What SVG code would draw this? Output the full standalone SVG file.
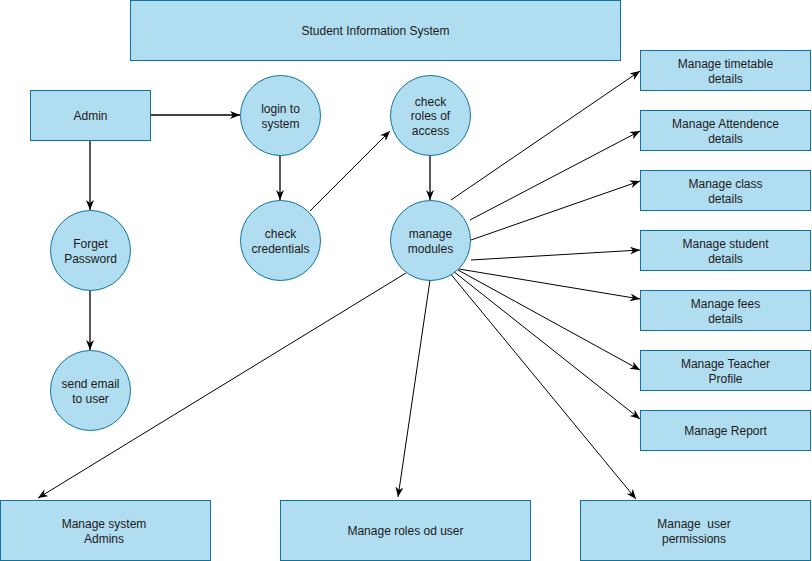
<svg xmlns="http://www.w3.org/2000/svg" width="812" height="561" viewBox="0 0 812 561">
<style>
.n{fill:#b1ddf0;stroke:#10739e;stroke-width:1}
.t{font-family:"Liberation Sans",Arial,sans-serif;font-size:12px;fill:#1a1a1a;text-anchor:middle;white-space:pre}
.e{stroke:#000;stroke-width:1;fill:none;marker-end:url(#a)}
.e2{stroke-width:1.3}
</style>
<defs>
<marker id="a" markerUnits="userSpaceOnUse" markerWidth="12" markerHeight="10" refX="10" refY="4" orient="auto">
<path d="M0,0 L10,4 L0,8 L3,4 Z" fill="#000"/>
</marker>
</defs>
<rect width="812" height="561" fill="#fff"/>
<g id="connectors">
<line class="e e2" x1="150" y1="115" x2="240" y2="115"/>
<line class="e e2" x1="90" y1="140" x2="90" y2="210"/>
<line class="e e2" x1="280" y1="155" x2="280" y2="200"/>
<line class="e" x1="310" y1="211" x2="390" y2="131"/>
<line class="e e2" x1="430" y1="155" x2="430" y2="200"/>
<line class="e e2" x1="90" y1="290" x2="90" y2="350"/>
<line class="e" x1="451" y1="200" x2="640" y2="71"/>
<line class="e" x1="470" y1="220" x2="640" y2="131"/>
<line class="e" x1="471" y1="240" x2="640" y2="181"/>
<line class="e" x1="471" y1="260" x2="640" y2="250"/>
<line class="e" x1="459" y1="269" x2="640" y2="299"/>
<line class="e" x1="458" y1="270" x2="640" y2="370"/>
<line class="e" x1="453" y1="271" x2="640" y2="419"/>
<line class="e" x1="449" y1="272" x2="636" y2="499"/>
<line class="e" x1="406" y1="273" x2="38" y2="498"/>
<line class="e" x1="430" y1="280" x2="398" y2="497"/>
</g>
<g id="title"><rect class="n" x="130.5" y="0.5" width="490" height="60"/><text class="t" x="375.5" y="35">Student Information System</text></g>
<g id="admin"><rect class="n" x="30.5" y="90.5" width="120" height="50"/><text class="t" x="90.5" y="120">Admin</text></g>
<g id="login"><circle class="n" cx="280.5" cy="115.5" r="40"/><text class="t" x="280.5" y="113">login to</text><text class="t" x="280.5" y="128">system</text></g>
<g id="credentials"><circle class="n" cx="280.5" cy="240.5" r="40"/><text class="t" x="280.5" y="238">check</text><text class="t" x="280.5" y="253">credentials</text></g>
<g id="forget"><circle class="n" cx="90.5" cy="250.5" r="40"/><text class="t" x="90.5" y="248">Forget</text><text class="t" x="90.5" y="263">Password</text></g>
<g id="sendemail"><circle class="n" cx="90.5" cy="390.5" r="40"/><text class="t" x="90.5" y="388">send email</text><text class="t" x="90.5" y="403">to user</text></g>
<g id="roles"><circle class="n" cx="430.5" cy="115.5" r="40"/><text class="t" x="430.5" y="106">check</text><text class="t" x="430.5" y="120">roles of</text><text class="t" x="430.5" y="135">access</text></g>
<g id="modules"><circle class="n" cx="430.5" cy="240.5" r="40"/><text class="t" x="430.5" y="238">manage</text><text class="t" x="430.5" y="253">modules</text></g>
<g id="timetable"><rect class="n" x="640.5" y="50.5" width="170" height="40"/><text class="t" x="725.5" y="68">Manage timetable</text><text class="t" x="725.5" y="83">details</text></g>
<g id="attendence"><rect class="n" x="640.5" y="110.5" width="170" height="40"/><text class="t" x="725.5" y="128">Manage Attendence</text><text class="t" x="725.5" y="143">details</text></g>
<g id="class"><rect class="n" x="640.5" y="170.5" width="170" height="40"/><text class="t" x="725.5" y="188">Manage class</text><text class="t" x="725.5" y="203">details</text></g>
<g id="student"><rect class="n" x="640.5" y="230.5" width="170" height="40"/><text class="t" x="725.5" y="248">Manage student</text><text class="t" x="725.5" y="263">details</text></g>
<g id="fees"><rect class="n" x="640.5" y="290.5" width="170" height="40"/><text class="t" x="725.5" y="308">Manage fees</text><text class="t" x="725.5" y="323">details</text></g>
<g id="teacher"><rect class="n" x="640.5" y="350.5" width="170" height="40"/><text class="t" x="725.5" y="368">Manage Teacher</text><text class="t" x="725.5" y="383">Profile</text></g>
<g id="report"><rect class="n" x="640.5" y="410.5" width="170" height="40"/><text class="t" x="725.5" y="435">Manage Report</text></g>
<g id="sysadmins"><rect class="n" x="0.5" y="500.5" width="210" height="60"/><text class="t" x="104" y="528">Manage system</text><text class="t" x="104" y="543">Admins</text></g>
<g id="rolesuser"><rect class="n" x="280.5" y="500.5" width="250" height="60"/><text class="t" x="405.5" y="535">Manage roles od user</text></g>
<g id="permissions"><rect class="n" x="580.5" y="500.5" width="230" height="60"/><text class="t" x="694" y="528">Manage  user</text><text class="t" x="694" y="543">permissions</text></g>
</svg>
